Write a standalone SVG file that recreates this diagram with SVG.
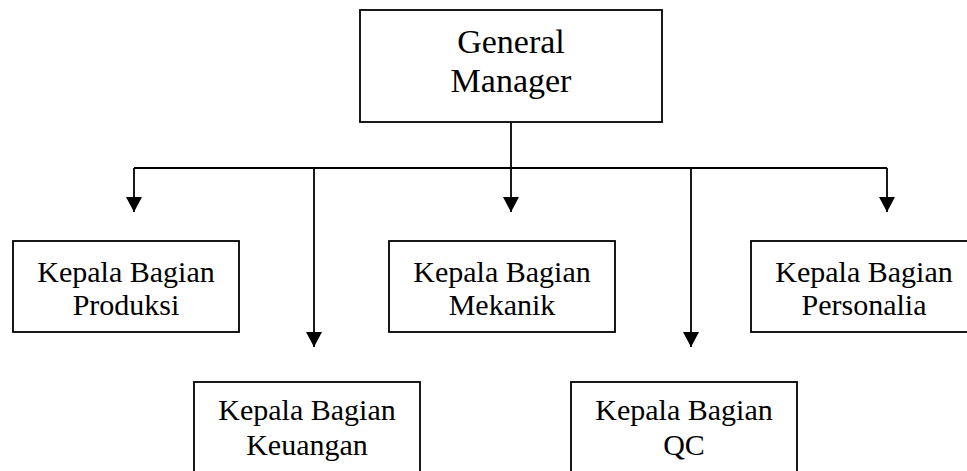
<svg xmlns="http://www.w3.org/2000/svg" width="967" height="471" viewBox="0 0 967 471">
<style>
.box{fill:#fff;stroke:#000;stroke-width:1.8}
.t{font-family:"Liberation Serif","Times New Roman",serif;fill:#000;text-anchor:middle}
.s{font-size:30px}
.l{font-size:34px}
.c{fill:none;stroke:#000;stroke-width:1.8}
</style>
<defs>
<marker id="ah" markerWidth="16" markerHeight="16" refX="15" refY="8" orient="auto" markerUnits="userSpaceOnUse">
<path d="M0,0 L15,8 L0,16 Z" fill="#000"/>
</marker>
</defs>
<g id="connectors">
<line class="c" x1="134" y1="168" x2="887" y2="168"/>
<line class="c" x1="511" y1="122" x2="511" y2="212" marker-end="url(#ah)"/>
<line class="c" x1="134" y1="168" x2="134" y2="212" marker-end="url(#ah)"/>
<line class="c" x1="314" y1="168" x2="314" y2="347" marker-end="url(#ah)"/>
<line class="c" x1="691" y1="168" x2="691" y2="347" marker-end="url(#ah)"/>
<line class="c" x1="887" y1="168" x2="887" y2="212" marker-end="url(#ah)"/>
</g>
<g id="gm">
<rect class="box" x="360" y="10" width="302" height="112"/>
<text class="t l" x="511" y="53">General</text>
<text class="t l" x="511" y="92">Manager</text>
</g>
<g id="produksi">
<rect class="box" x="13" y="241" width="226" height="91"/>
<text class="t s" x="126" y="282">Kepala Bagian</text>
<text class="t s" x="126" y="315">Produksi</text>
</g>
<g id="mekanik">
<rect class="box" x="389" y="241" width="226" height="91"/>
<text class="t s" x="502" y="282">Kepala Bagian</text>
<text class="t s" x="502" y="315">Mekanik</text>
</g>
<g id="personalia">
<rect class="box" x="751" y="241" width="226" height="91"/>
<text class="t s" x="864" y="282">Kepala Bagian</text>
<text class="t s" x="864" y="315">Personalia</text>
</g>
<g id="keuangan">
<rect class="box" x="194" y="382" width="226" height="100"/>
<text class="t s" x="307" y="420">Kepala Bagian</text>
<text class="t s" x="307" y="455">Keuangan</text>
</g>
<g id="qc">
<rect class="box" x="571" y="382" width="226" height="100"/>
<text class="t s" x="684" y="420">Kepala Bagian</text>
<text class="t s" x="684" y="455">QC</text>
</g>
</svg>
